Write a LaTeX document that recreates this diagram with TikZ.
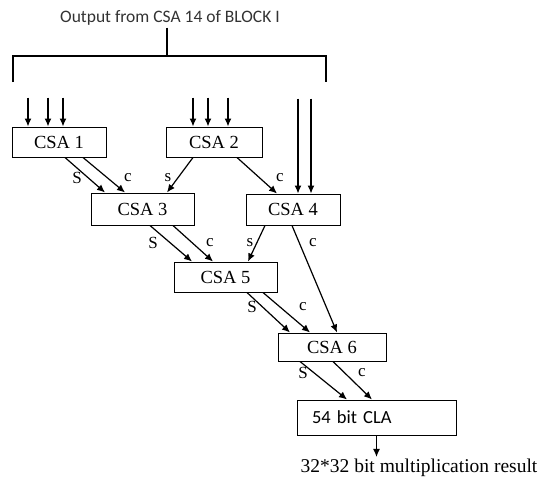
\documentclass[tikz,border=0pt]{standalone}
\usepackage{fontspec}
\setmainfont{Liberation Serif}
\newfontfamily\calfont{Carlito}
\usetikzlibrary{arrows.meta}
\tikzset{
  csabox/.style ={draw, rectangle, minimum height=30pt, inner sep=0pt,
                  line width=1pt, font=\fontsize{18.5}{20}\selectfont},
  clabox/.style ={draw, rectangle, text width=129pt, align=left,
                  inner xsep=15pt, minimum height=35pt, line width=1pt,
                  font=\calfont\fontsize{18.5}{20}\selectfont},
  arr/.style    ={-{Latex[length=8pt,width=7pt]}, line width=1.2pt},
  wire/.style   ={line width=1.2pt},
  lbl/.style    ={font=\fontsize{17}{18}\selectfont, inner sep=0pt},
  ttl/.style    ={font=\calfont\fontsize{17.5}{20}\selectfont, inner sep=2pt,
                  text=black!80},
  res/.style    ={font=\fontsize{19.5}{22}\selectfont, inner sep=2pt},
}
\begin{document}
\begin{tikzpicture}[x=1pt, y=-1pt]
  \useasboundingbox (0,0) rectangle (545,477);
  % fan-out from block I
  \node[ttl] (ttl) at (170,18) {Output from CSA 14 of BLOCK I};
  \coordinate (split) at (167,56);
  \coordinate (lc) at (13,56);
  \coordinate (rc) at (326,56);
  \coordinate (ld) at (13,82);
  \coordinate (rd) at (326,82);
  \draw[wire] (ttl.south -| split) -- (split);
  \draw[wire] (ld) -- (lc) -- (rc) -- (rd);
  % adder tree
  \node[csabox, minimum width=94pt] (csa1) at (59,142) {CSA 1\hspace{8pt}};
  \node[csabox, minimum width=96pt] (csa2) at (214,142) {CSA 2\hspace{8pt}};
  \node[csabox, minimum width=103pt, minimum height=32pt] (csa3) at (142.5,209) {CSA 3\hspace{10pt}};
  \node[csabox, minimum width=94pt, minimum height=31pt] (csa4) at (293,209.5) {CSA 4\hspace{4pt}};
  \node[csabox, minimum width=103pt] (csa5) at (225.5,277) {CSA 5\hspace{10pt}};
  \node[csabox, minimum width=108pt, minimum height=28pt] (csa6) at (332,347) {CSA 6\hspace{10pt}};
  \node[clabox] (cla) at (376.5,417.5) {54 bit CLA};
  \node[res] (res) at (419,468) {32*32 bit multiplication result};
  % partial product inputs
  \foreach \dx in {-31,-11,4}
    \draw[arr] ([shift={(\dx,-29)}]csa1.north) -- ([xshift=\dx pt]csa1.north);
  \foreach \dx in {-21,-6,14}
    \draw[arr] ([shift={(\dx,-29)}]csa2.north) -- ([xshift=\dx pt]csa2.north);
  \foreach \dx in {5,18}
    \draw[arr] ([shift={(\dx,-95)}]csa4.north) -- ([xshift=\dx pt]csa4.north);
  % sum and carry paths
  \draw[arr] ([xshift=6pt]csa1.south) -- ([xshift=-37.5pt]csa3.north);
  \draw[arr] ([xshift=24pt]csa1.south) -- ([xshift=-17.5pt]csa3.north);
  \draw[arr] ([xshift=-21pt]csa2.south) -- ([xshift=24.5pt]csa3.north);
  \draw[arr] ([xshift=23pt]csa2.south) -- ([xshift=-16pt]csa4.north);
  \draw[arr] ([xshift=7.5pt]csa3.south) -- ([xshift=-33.5pt]csa5.north);
  \draw[arr] ([xshift=30.5pt]csa3.south) -- ([xshift=-12.5pt]csa5.north);
  \draw[arr] ([xshift=-28pt]csa4.south) -- ([xshift=22.5pt]csa5.north);
  \draw[arr] ([xshift=-1pt]csa4.south) -- ([xshift=5pt]csa6.north);
  \draw[arr] ([xshift=21.5pt]csa5.south) -- ([xshift=-42pt]csa6.north);
  \draw[arr] ([xshift=37.5pt]csa5.south) -- ([xshift=-22pt]csa6.north);
  \draw[arr] ([xshift=-32pt]csa6.south) -- ([xshift=-29.5pt]cla.north);
  \draw[arr] ([xshift=1pt]csa6.south) -- ([xshift=-4.5pt]cla.north);
  \draw[arr] (cla.south) -- (cla.south |- res.north);
  \node[lbl] (l1s) at (77,178) {S};
  \node[lbl] (l1c) at (128,178) {c};
  \node[lbl] (l2s) at (168,178) {s};
  \node[lbl] (l2c) at (280,178) {c};
  \node[lbl] (l3s) at (153,243) {S};
  \node[lbl] (l3c) at (210,243) {c};
  \node[lbl] (l4s) at (250,243) {s};
  \node[lbl] (l4c) at (313,243) {c};
  \node[lbl] (l5s) at (252,307) {S};
  \node[lbl] (l5c) at (303,307) {c};
  \node[lbl] (l6s) at (303,373) {S};
  \node[lbl] (l6c) at (362,373) {c};
\end{tikzpicture}
\end{document}
